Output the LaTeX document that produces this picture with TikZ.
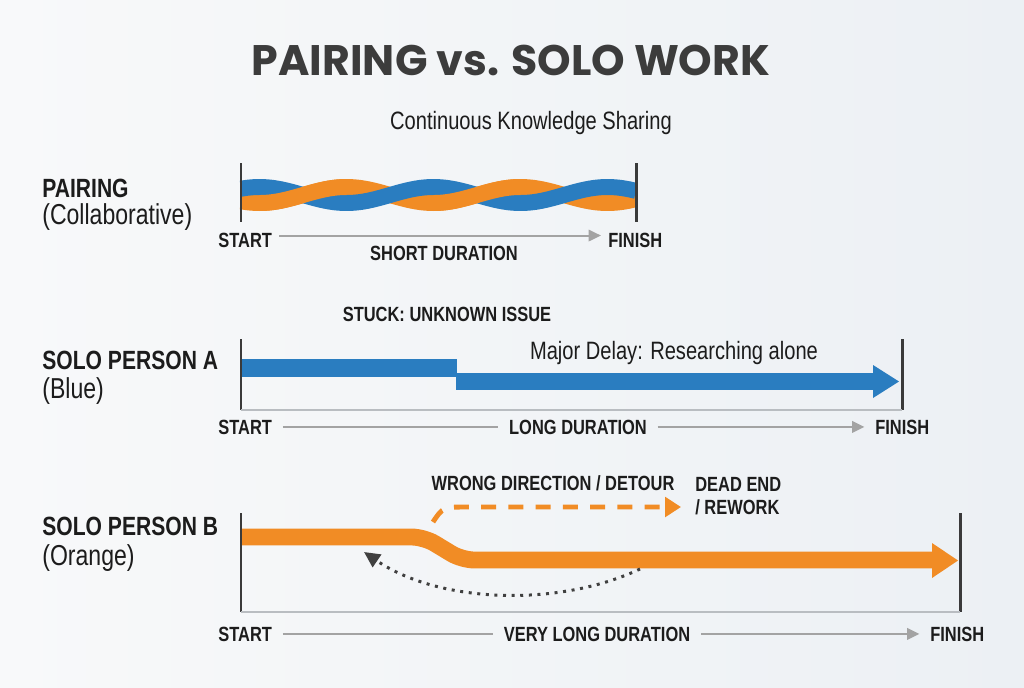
\documentclass[tikz,border=0pt]{standalone}
\usepackage{fontspec}
\usetikzlibrary{arrows.meta}
\newfontfamily\condf[FakeStretch=0.8]{Liberation Sans}
\newfontfamily\headf{Poppins}
\definecolor{ink}{HTML}{1C1C1C}
\definecolor{headc}{HTML}{3C3C3C}
\definecolor{bluec}{HTML}{2A7DC0}
\definecolor{orangec}{HTML}{F18C25}
\definecolor{tickc}{HTML}{3A3A3A}
\definecolor{linec}{HTML}{A3A3A3}
\definecolor{basec}{HTML}{B9BDC1}
\definecolor{loopc}{HTML}{404040}
\definecolor{bgl}{HTML}{F8F9FA}
\definecolor{bgr}{HTML}{ECF0F4}
\tikzset{
  rowlbl/.style={font=\condf\bfseries\fontsize{15}{16}\selectfont, text=ink, anchor=base west, inner sep=0pt},
  rowsub/.style={font=\condf\fontsize{16.4}{18}\selectfont, text=ink, anchor=base west, inner sep=0pt},
  tag/.style={font=\condf\bfseries\fontsize{11.7}{13}\selectfont, text=ink, inner sep=0pt},
  note/.style={font=\condf\fontsize{14.3}{16}\selectfont, text=ink, inner sep=0pt},
  tick/.style={draw=tickc, line width=1.7pt},
  base/.style={draw=basec, line width=0.9pt},
  timeline/.style={draw=linec, line width=1.1pt, shorten <=6pt, shorten >=6pt},
  timearrow/.style={timeline, -{Triangle[length=7pt,width=6.5pt]}},
  strand/.style={line width=9.1pt, domain=#1, samples=60, smooth, variable=\x},
}
\begin{document}
\begin{tikzpicture}[x=0.02cm, y=-0.02cm]
    \shade[left color=bgl, right color=bgr] (0,0) rectangle (1024,687);
    \useasboundingbox (0,0) rectangle (1024,687);

    % headings
    \node[font=\headf\bfseries\fontsize{24.3}{28}\selectfont, text=headc, anchor=base, inner sep=0pt] (title) at (511,75) {PAIRING vs. SOLO WORK};
    \node[note, anchor=base] (sharing) at (531,129) {Continuous Knowledge Sharing};

    % row labels
    \node[rowlbl] (pair) at (42,197) {PAIRING};
    \node[rowsub] (pairsub) at (42,224) {(Collaborative)};
    \node[rowlbl] (soloa) at (42,369) {SOLO PERSON A};
    \node[rowsub] (soloasub) at (42,398) {(Blue)};
    \node[rowlbl] (solob) at (42,535) {SOLO PERSON B};
    \node[rowsub] (solobsub) at (42,565) {(Orange)};

    % twisted strands
    \draw[orangec, strand=241:636] plot ({\x},{195+8*cos((\x-259.5)*2.069)});
    \draw[bluec, strand=241:636] plot ({\x},{195-8*cos((\x-259.5)*2.069)});
    \foreach \a/\b in {259.5/346.5, 433.5/520.5}
        \draw[orangec, strand=\a:\b] plot ({\x},{195+8*cos((\x-259.5)*2.069)});

    % person A bar
    \fill[bluec] (241,359) rectangle (457,377);
    \fill[bluec] (456,373) rectangle (874,390);
    \fill[bluec] (873,365) -- (899,381.5) -- (873,398) -- cycle;
    \node[tag, anchor=base] (stuck) at (447,321) {STUCK: UNKNOWN ISSUE};
    \node[note, anchor=base] (delay) at (674,359) {Major Delay: Researching alone};

    % person B bar
    \draw[orangec, line width=9.6pt, rounded corners=7pt] (241,537) -- (424,537) -- (462,560) -- (934,560);
    \fill[orangec] (932,543) -- (958,560.5) -- (932,578) -- cycle;
    \node[tag, anchor=base] (wrong) at (553,490) {WRONG DIRECTION / DETOUR};
    \node[tag, anchor=base west, align=left] (dead) at (695,514) {DEAD END\\/ REWORK};
    \coordinate (detour0) at (433,522);
    \coordinate (detour1) at (681,507);
    \draw[orangec, line width=2.8pt, dash pattern=on 8.5pt off 7pt, -{Triangle[length=9pt,width=11pt]}]
        (detour0) .. controls (443,507) .. (468,507) -- (detour1);
    \coordinate (back0) at (640,569);
    \coordinate (back1) at (364,552);
    \draw[loopc, line width=1.7pt, dash pattern=on 1.7pt off 3.2pt, -{Triangle[length=9pt,width=8.5pt]}]
        (back0) .. controls (560,607) and (440,604) .. (back1);

    % frames
    \foreach \tx/\ta/\tb in {241/163/222, 636/163/222, 241/339/410, 902/339/410, 241/513/612, 960/513/612}
        \draw[tick] (\tx,\ta) -- (\tx,\tb);
    \draw[base] (241,410) -- (902,410);
    \draw[base] (241,612) -- (960,612);

    % time lines
    \node[tag, anchor=base west] (start1) at (218,247) {START};
    \node[tag, anchor=base west] (finish1) at (608,247) {FINISH};
    \node[tag, anchor=base] (short) at (444,260) {SHORT DURATION};
    \draw[timearrow, shorten <=4pt, shorten >=4pt] ([yshift=2.5pt]start1.east) -- ([yshift=2.5pt]finish1.west);

    \node[tag, anchor=base west] (start2) at (218,434) {START};
    \node[tag, anchor=base west] (finish2) at (875,434) {FINISH};
    \node[tag, anchor=base] (long) at (578,434) {LONG DURATION};
    \draw[timeline] (start2) -- (long);
    \draw[timearrow] (long) -- (finish2);

    \node[tag, anchor=base west] (start3) at (218,641) {START};
    \node[tag, anchor=base west] (finish3) at (930,641) {FINISH};
    \node[tag, anchor=base] (vlong) at (597,641) {VERY LONG DURATION};
    \draw[timeline] (start3) -- (vlong);
    \draw[timearrow] (vlong) -- (finish3);
\end{tikzpicture}
\end{document}
